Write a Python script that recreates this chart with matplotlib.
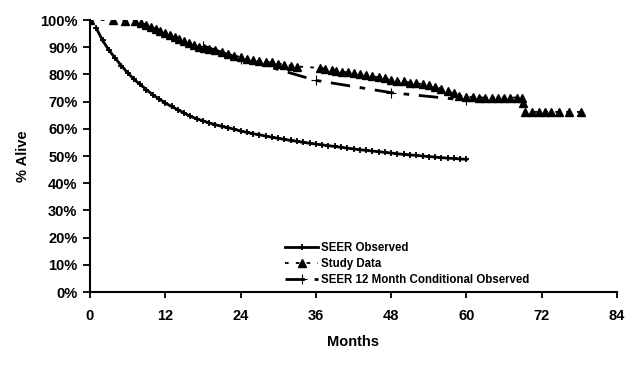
import numpy as np
import matplotlib.pyplot as plt
from matplotlib.ticker import FuncFormatter

plt.rcParams['font.family'] = ['Liberation Sans', 'DejaVu Sans']
plt.rcParams['font.weight'] = 'bold'

# SEER observed survival, monthly 1..60
seer_months = list(range(1, 61))
seer_pct = [97.0, 92.5, 89.0, 86.0, 83.2, 80.6, 78.2, 76.3, 74.4, 72.5,
            71.0, 69.5, 68.2, 67.0, 65.8, 64.6, 63.7, 62.9, 62.2, 61.5,
            60.9, 60.4, 59.8, 59.2, 58.7, 58.2, 57.8, 57.3, 56.9, 56.5,
            56.1, 55.7, 55.4, 55.0, 54.7, 54.4, 54.1, 53.8, 53.5, 53.2,
            52.9, 52.6, 52.3, 52.1, 51.8, 51.6, 51.3, 51.1, 50.8, 50.6,
            50.4, 50.2, 50.0, 49.8, 49.6, 49.4, 49.2, 49.1, 48.9, 48.8]

# study data (Kaplan-Meier events)
study_months = [0, 3.6, 5.5, 7.1, 8.2, 9.0, 9.8, 10.5, 11.2, 12.0, 12.8, 13.5,
                14.2, 15.0, 15.8, 16.6, 17.4, 18.2, 19.0, 20.0, 21.0, 22.0,
                23.0, 24.0, 25.0, 26.0, 27.0, 28.0, 29.0, 30.0, 31.0, 32.0,
                33.0, 36.6, 37.5, 38.5, 39.2, 40.2, 41.2, 42.0, 43.0, 44.0,
                45.0, 46.0, 47.0, 48.0, 49.0, 50.0, 51.0, 52.0, 53.0, 54.0,
                55.0, 56.0, 57.0, 58.0, 58.8, 60.0, 61.0, 62.0, 63.0, 64.0,
                65.0, 66.0, 67.0, 68.0, 68.8, 69.0, 69.3, 70.5, 71.5, 72.5,
                73.5, 74.8, 76.4, 78.3]
study_pct = [100, 100, 99.8, 99.6, 98.9, 98.3, 97.6, 96.8, 96.0, 95.2, 94.4, 93.6,
             92.9, 92.2, 91.5, 90.8, 90.2, 89.7, 89.3, 88.8, 88.2, 87.6,
             86.9, 86.4, 85.8, 85.2, 84.8, 84.6, 84.4, 84.0, 83.6, 83.2,
             82.9, 82.4, 82.1, 81.8, 81.4, 81.0, 80.7, 80.4, 80.0, 79.6,
             79.3, 78.9, 78.5, 78.1, 77.7, 77.4, 77.0, 76.7, 76.4, 76.0,
             75.5, 74.8, 73.9, 73.0, 72.2, 71.8, 71.6, 71.5, 71.5, 71.5,
             71.5, 71.5, 71.5, 71.5, 71.5, 69.4, 66.2, 66.2, 66.2, 66.2,
             66.2, 66.2, 66.2, 66.2]

# SEER 12 month conditional observed
cond_months = [18, 24, 36, 48, 60]
cond_pct = [90.5, 85.8, 77.8, 73.3, 70.5]

fig = plt.figure(figsize=(6.31, 3.73), dpi=100)
ax = fig.add_axes([90 / 631, 1 - 292 / 373, (617 - 90) / 631, (292 - 20) / 373])

ax.plot(seer_months, seer_pct, color='black', lw=2, marker='+', ms=4.5, mew=1.3,
        label='SEER Observed')
ax.plot(study_months, study_pct, color='black', lw=1.3, ls=(0, (2, 4)), marker='^',
        ms=5.5, label='Study Data')
ax.plot(cond_months, cond_pct, color='black', lw=2, dashes=(7, 3.5, 2, 3.5), marker='+',
        ms=7, mew=0.8, label='SEER 12 Month Conditional Observed')

ax.set_xlim(0, 84)
ax.set_ylim(0, 100)
ax.set_xticks(range(0, 85, 12))
ax.set_yticks(range(0, 101, 10))
ax.yaxis.set_major_formatter(FuncFormatter(lambda v, p: '%d%%' % v))

for s in ['top', 'right']:
    ax.spines[s].set_visible(False)
for s in ['left', 'bottom']:
    ax.spines[s].set_linewidth(1.5)
ax.tick_params(axis='y', direction='out', length=5, width=1.3, labelsize=10.5, pad=4)
ax.tick_params(axis='x', direction='out', length=4, width=1.3, labelsize=10.5, pad=8)

ax.set_xlabel('Months', fontsize=10.5, fontweight='bold', labelpad=9)
ax.set_ylabel('% Alive', fontsize=10.5, fontweight='bold', labelpad=7)

ax.legend(loc='upper left', bbox_to_anchor=(285 / 631, 1 - 242 / 373),
          bbox_transform=fig.transFigure, frameon=False,
          handlelength=2.9, handletextpad=0.2, labelspacing=0.35,
          borderpad=0, borderaxespad=0, prop={'weight': 'bold', 'size': 8.3})

fig.savefig('out.png', dpi=100)
